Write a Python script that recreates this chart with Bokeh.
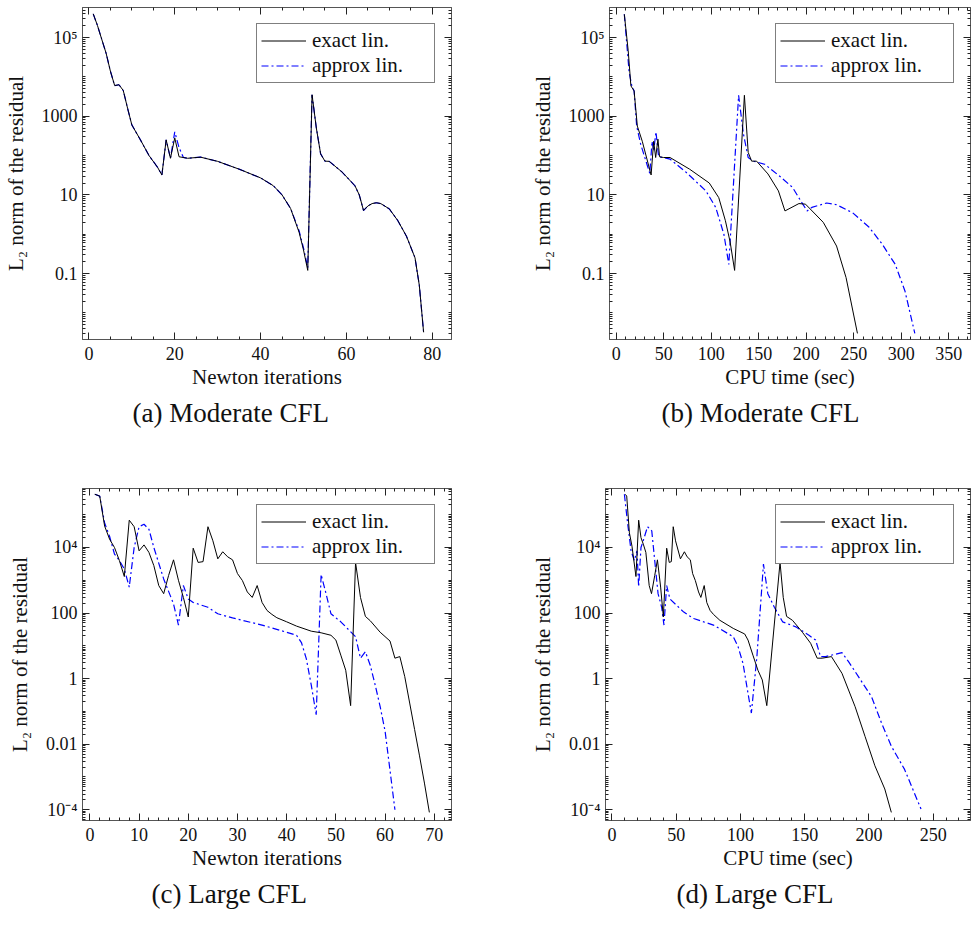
import numpy as np
from bokeh.plotting import figure
from bokeh.layouts import column, row
from bokeh.models import (Range1d, FixedTicker, LinearAxis, LogAxis, Title, Legend,
                          LegendItem, CustomJSTickFormatter)
from bokeh.embed import file_html
from bokeh.resources import INLINE

# ---------------- data ----------------
# (a) Moderate CFL vs Newton iterations
a_exact_x = [1, 2, 3, 4, 5, 6, 7, 8, 9, 10, 12, 14, 16, 17, 18, 19, 20, 21, 23, 26, 30, 35, 40,
             43, 45, 47, 49, 50, 51, 52, 53, 54, 55, 56, 59, 62, 63, 64, 65, 66, 67, 68, 70,
             72, 74, 76, 77, 78]
a_exact_y = [4.0e5, 2.0e5, 8.9e4, 4.0e4, 1.4e4, 6.0e3, 6.3e3, 4.5e3, 1.6e3, 600, 250, 100, 50,
             32, 250, 85, 280, 93, 85, 91, 71, 45, 27, 17, 10, 4.5, 1.1, 0.4, 0.12, 3.5e3, 500,
             110, 72, 71, 38, 17, 10, 4.0, 5.2, 6.0, 6.3, 6.0, 4.4, 2.2, 0.89, 0.25, 0.05, 3.2e-3]
a_approx_x = [1, 2, 3, 4, 5, 6, 7, 8, 9, 10, 12, 14, 16, 17, 18, 19, 20, 21, 22, 23, 26, 30, 35,
              40, 43, 45, 47, 49, 50, 51, 52, 53, 54, 55, 56, 59, 62, 63, 64, 65, 66, 67, 68,
              70, 72, 74, 76, 77, 78]
a_approx_y = [4.0e5, 2.0e5, 8.9e4, 4.0e4, 1.4e4, 6.0e3, 6.3e3, 4.5e3, 1.6e3, 600, 250, 100, 50,
              32, 250, 85, 400, 160, 90, 85, 91, 71, 45, 27, 17, 10, 4.5, 1.2, 0.45, 0.14, 3.5e3,
              500, 110, 72, 71, 38, 17, 10, 4.0, 5.2, 6.0, 6.3, 6.0, 4.4, 2.2, 0.89, 0.25, 0.05,
              3.2e-3]

# (b) Moderate CFL vs CPU time
b_exact_x = [8.6, 12.7, 15.5, 18.9, 22.3, 27.5, 36.8, 39.5, 41.6, 44, 45.7, 49.8, 56.7, 77.3,
             98, 108, 115, 120, 124.7, 135, 139, 142.6, 147.8, 159.8, 170.8, 177.7, 192.4,
             199.3, 218, 232, 242, 254]
b_exact_y = [3.9e5, 4.6e4, 5.9e3, 4.4e3, 560, 230, 32, 230, 89, 260, 93, 89, 89, 45, 20, 8.5,
             2.2, 0.63, 0.12, 3.4e3, 120, 72, 72, 34, 12.6, 3.9, 6.0, 5.8, 2.0, 0.5, 0.079, 3.0e-3]
b_approx_x = [8.6, 13.7, 16.5, 18.9, 21.6, 25.8, 35.4, 37.8, 39.5, 41.9, 44.7, 49.8, 56.7, 73.9,
              94.5, 104.8, 113.4, 118.6, 128.9, 134, 139, 144.3, 156.4, 173.5, 185.6, 194.2,
              201, 206, 221.6, 232, 249, 266.3, 280, 293.8, 304, 314.4]
b_approx_y = [3.9e5, 1.3e4, 5.9e3, 4.4e3, 560, 195, 35, 230, 130, 400, 93, 89, 81, 37, 12.6,
              4.8, 1.0, 0.17, 3.4e3, 350, 89, 72, 60, 28, 15.5, 7.1, 3.9, 4.8, 6.2, 5.6, 3.5,
              1.5, 0.56, 0.17, 0.036, 3.0e-3]

# (c) Large CFL vs Newton iterations
c_exact_x = [1, 2, 3, 4, 5, 6, 7, 8, 9, 10, 11, 12, 13, 14, 15, 16, 17, 18, 19, 20, 21, 22, 23,
             24, 25, 26, 27, 28, 29, 30, 31, 32, 33, 34, 35, 36, 37, 38, 40, 42, 45, 47, 49, 50,
             51, 52, 53, 54, 55, 56, 57, 59, 61, 62, 63, 64, 65, 66, 67, 68, 69]
c_exact_y = [4.2e5, 3.7e5, 4.5e4, 1.8e4, 1.0e4, 4.0e3, 1.3e3, 6.8e4, 4.3e4, 7.9e3, 1.2e4, 7.1e3,
             2.8e3, 690, 390, 1.4e3, 4.2e3, 1.0e3, 300, 76, 9.5e3, 3.5e3, 3.7e3, 4.3e4, 1.6e4,
             4.5e3, 7.4e3, 5.2e3, 4.2e3, 1.6e3, 980, 440, 300, 690, 210, 120, 91, 72, 54, 40, 28,
             25, 21, 15, 5.2, 1.8, 0.15, 3.5e3, 300, 79, 58, 26, 14, 4.2, 4.7, 1.15, 0.18, 0.028,
             4.4e-3, 6.5e-4, 8.3e-5]
c_approx_x = [1, 2, 3, 4, 5, 6, 7, 8, 9, 10, 11, 12, 13, 15, 17, 18, 19, 20, 21, 24, 26, 29, 35,
              40, 42, 43, 44, 45, 46, 47, 48, 49, 51, 54, 55, 56, 57, 58, 59, 60, 61, 62]
c_approx_y = [4.2e5, 3.7e5, 5.6e4, 2.2e4, 6.3e3, 4.0e3, 2.2e3, 620, 1.0e4, 4.3e4, 5.1e4, 3.6e4,
              1.0e4, 1.1e3, 190, 43, 690, 270, 210, 150, 95, 71, 43, 26, 21, 12.6, 4.0, 0.63,
              0.079, 1.5e3, 390, 95, 54, 19, 4.2, 6.6, 2.5, 0.63, 0.14, 0.025, 1.6e-3, 1.0e-4]

# (d) Large CFL vs CPU time
d_exact_x = [10.3, 11.5, 13.6, 15.6, 18.7, 20.8, 22.6, 24.6, 26.4, 29, 30.8, 33.3, 35.4, 37.9,
             40, 42.6, 44.6, 46.2, 47.7, 49.5, 53.3, 56.4, 58.5, 61, 62.8, 64.9, 67.4, 69.2,
             71.8, 73.8, 76.4, 79, 84, 94.4, 103.3, 105.9, 109.7, 113.6, 117, 120.5, 130.8,
             133.3, 135.9, 140.5, 148.2, 154.6, 159.7, 163.6, 170.8, 179, 189.2, 197, 204.6,
             212.3, 217.4]
d_exact_y = [4.2e5, 3.7e5, 2.8e4, 1.1e4, 1.3e3, 6.8e4, 2.0e4, 1.2e4, 7.1e3, 690, 390, 1.4e3,
             4.2e3, 620, 76, 9.5e3, 3.5e3, 3.7e3, 4.3e4, 1.6e4, 4.5e3, 7.4e3, 5.2e3, 4.2e3,
             1.6e3, 980, 440, 300, 690, 210, 120, 91, 60, 34, 23, 15, 5.2, 1.8, 0.91, 0.15,
             3.5e3, 300, 79, 60, 26, 12, 4.2, 4.2, 4.7, 1.45, 0.14, 0.017, 2.2e-3, 4.3e-4, 8.3e-5]
d_approx_x = [9.7, 12.3, 14.9, 17.4, 19.5, 20.8, 22.6, 25.1, 27.7, 31, 33.3, 35.9, 38.7, 40.5,
              42.6, 45.1, 55.9, 63.6, 79, 94.4, 98.2, 102, 105.4, 108.5, 112.8, 117.9, 121.3,
              126.4, 132.8, 143.1, 153.3, 158.5, 162.3, 166.2, 179, 184.1, 191.8, 202, 209.7,
              217.4, 227.7, 240.5]
d_approx_y = [4.2e5, 5.1e4, 7.9e3, 4.0e3, 7.9e3, 620, 1.0e4, 2.0e4, 4.3e4, 3.2e4, 4.0e3, 390,
              150, 43, 690, 270, 107, 68, 43, 19, 9.3, 2.9, 0.46, 0.089, 4.7, 3.1e3, 390, 150,
              54, 38, 21, 15, 4.7, 4.7, 6.2, 3.3, 1.15, 0.28, 0.045, 8.7e-3, 1.7e-3, 1.05e-4]

# ticks and labels
top_yticks = [0.1, 10, 1000, 1e5]
top_ylabels = ["0.1", "10", "1000", "10\u2075"]
bot_yticks = [1e-4, 0.01, 1, 100, 1e4]
bot_ylabels = ["10\u207b\u2074", "0.01", "1", "100", "10\u2074"]
a_xticks = [0, 20, 40, 60, 80]
b_xticks = [0, 50, 100, 150, 200, 250, 300, 350]
c_xticks = [0, 10, 20, 30, 40, 50, 60, 70]
d_xticks = [0, 50, 100, 150, 200, 250]

series_labels = ["exact lin.", "approx lin."]
xlabels = ["Newton iterations", "CPU time (sec)"]
ylabel = "L\u2082 norm of the residual"
captions = ["(a) Moderate CFL", "(b) Moderate CFL", "(c) Large CFL", "(d) Large CFL"]

# ---------------- styling ----------------
FONT = "Liberation Serif"
FRAME = "#555555"


def log_minors(lo, hi, majors):
    out = []
    for k in range(lo, hi + 1):
        for m in range(1, 10):
            v = m * 10.0 ** k
            if all(abs(np.log10(v) - np.log10(t)) > 1e-9 for t in majors):
                out.append(v)
    return out


def style_axis(ax):
    ax.axis_line_color = FRAME
    ax.major_tick_line_color = "#222222"
    ax.minor_tick_line_color = "#222222"
    ax.major_tick_in = 7
    ax.major_tick_out = 0
    ax.minor_tick_in = 3
    ax.minor_tick_out = 0
    ax.major_label_text_font = FONT
    ax.major_label_text_font_size = "18px"
    ax.major_label_text_color = "#111111"


def hidden_axis(ax):
    style_axis(ax)
    ax.formatter = CustomJSTickFormatter(code="return ''")
    ax.major_label_text_font_size = "1px"
    ax.major_label_text_alpha = 0
    ax.major_label_standoff = 0


def make_panel(ex, ey, apx, apy, xr, yr, xticks, xminor_step, yticks, ylabels, xlabel,
               caption, width, height, mb_left, mb_right, mb_top, mb_bottom,
               cap_offset, leg_margin):
    p = figure(width=width, height=height, x_range=Range1d(*xr), y_range=Range1d(*yr),
               y_axis_type="log", output_backend="svg", toolbar_location=None,
               min_border_left=mb_left, min_border_right=mb_right,
               min_border_top=mb_top, min_border_bottom=mb_bottom,
               background_fill_color="white", border_fill_color="white")
    p.outline_line_color = FRAME
    p.outline_line_width = 1
    p.xgrid.visible = False
    p.ygrid.visible = False

    xminor = [float(v) for v in np.arange(xticks[0], xticks[-1] + xminor_step * 3, xminor_step)
              if v not in xticks]
    xt = FixedTicker(ticks=xticks, minor_ticks=xminor)
    lo = int(np.floor(np.log10(yr[0])))
    hi = int(np.ceil(np.log10(yr[1])))
    yt = FixedTicker(ticks=yticks, minor_ticks=log_minors(lo, hi, yticks))
    fmt = CustomJSTickFormatter(args=dict(vals=yticks, labs=ylabels), code="""
        let best = 0, bd = 1e9;
        for (let i = 0; i < vals.length; i++) {
            const d = Math.abs(Math.log10(vals[i]) - Math.log10(tick));
            if (d < bd) { bd = d; best = i; }
        }
        return labs[best];
    """)

    xa = p.xaxis[0]
    xa.ticker = xt
    style_axis(xa)
    xa.major_label_standoff = 7
    xa.axis_label = xlabel
    xa.axis_label_text_font = FONT
    xa.axis_label_text_font_size = "21px"
    xa.axis_label_text_font_style = "normal"
    xa.axis_label_text_color = "#111111"
    xa.axis_label_standoff = 2

    ya = p.yaxis[0]
    ya.ticker = yt
    ya.formatter = fmt
    style_axis(ya)
    ya.major_label_standoff = 5
    ya.axis_label = ylabel
    ya.axis_label_text_font = FONT
    ya.axis_label_text_font_size = "21px"
    ya.axis_label_text_font_style = "normal"
    ya.axis_label_text_color = "#111111"
    ya.axis_label_standoff = 11

    top = LinearAxis(ticker=xt)
    hidden_axis(top)
    p.add_layout(top, "above")
    right = LogAxis(ticker=yt)
    hidden_axis(right)
    p.add_layout(right, "right")

    ra = p.line(apx, apy, line_color="#0000ff", line_width=1.2, line_dash="7 3 2 3")
    re = p.line(ex, ey, line_color="black", line_width=1.0)

    leg = Legend(items=[LegendItem(label=series_labels[0], renderers=[re]),
                        LegendItem(label=series_labels[1], renderers=[ra])],
                 location="top_right", margin=leg_margin,
                 label_text_font=FONT, label_text_font_size="21px",
                 label_text_color="#111111",
                 glyph_width=45, glyph_height=21, label_height=21, label_width=118,
                 label_standoff=6, padding=4, spacing=0,
                 border_line_color="black", border_line_width=1,
                 background_fill_color="white", background_fill_alpha=1.0)
    p.add_layout(leg, "center")

    cap = Title(text=caption, align="left", offset=cap_offset, text_font=FONT,
                text_font_size="27px", text_font_style="normal", text_color="#111111",
                standoff=8)
    p.add_layout(cap, "below")
    return p


top_h, bot_h = 449, 479
lw, rw = 527, 445

pa = make_panel(a_exact_x, a_exact_y, a_approx_x, a_approx_y, (-1.5, 84.5), (2.1e-3, 5.8e5),
                a_xticks, 5, top_yticks, top_ylabels, xlabels[0], captions[0],
                lw, top_h, 82, 76, 7, 110, 50, 16)
pb = make_panel(b_exact_x, b_exact_y, b_approx_x, b_approx_y, (-7, 373), (2.1e-3, 5.8e5),
                b_xticks, 10, top_yticks, top_ylabels, xlabels[1], captions[1],
                rw, top_h, 74, 2, 7, 110, 52, 16)
pc = make_panel(c_exact_x, c_exact_y, c_approx_x, c_approx_y, (-1.5, 73.5), (4.7e-5, 6.3e5),
                c_xticks, 2, bot_yticks, bot_ylabels, xlabels[0], captions[2],
                lw, bot_h, 82, 76, 39, 108, 69, 16)
pd_ = make_panel(d_exact_x, d_exact_y, d_approx_x, d_approx_y, (-5, 279), (4.7e-5, 6.3e5),
                 d_xticks, 10, bot_yticks, bot_ylabels, xlabels[1], captions[3],
                 rw, bot_h, 74, 2, 39, 108, 71, 16)

layout = column(row(pa, pb), row(pc, pd_))
open("out.html", "w").write(file_html(layout, INLINE))
